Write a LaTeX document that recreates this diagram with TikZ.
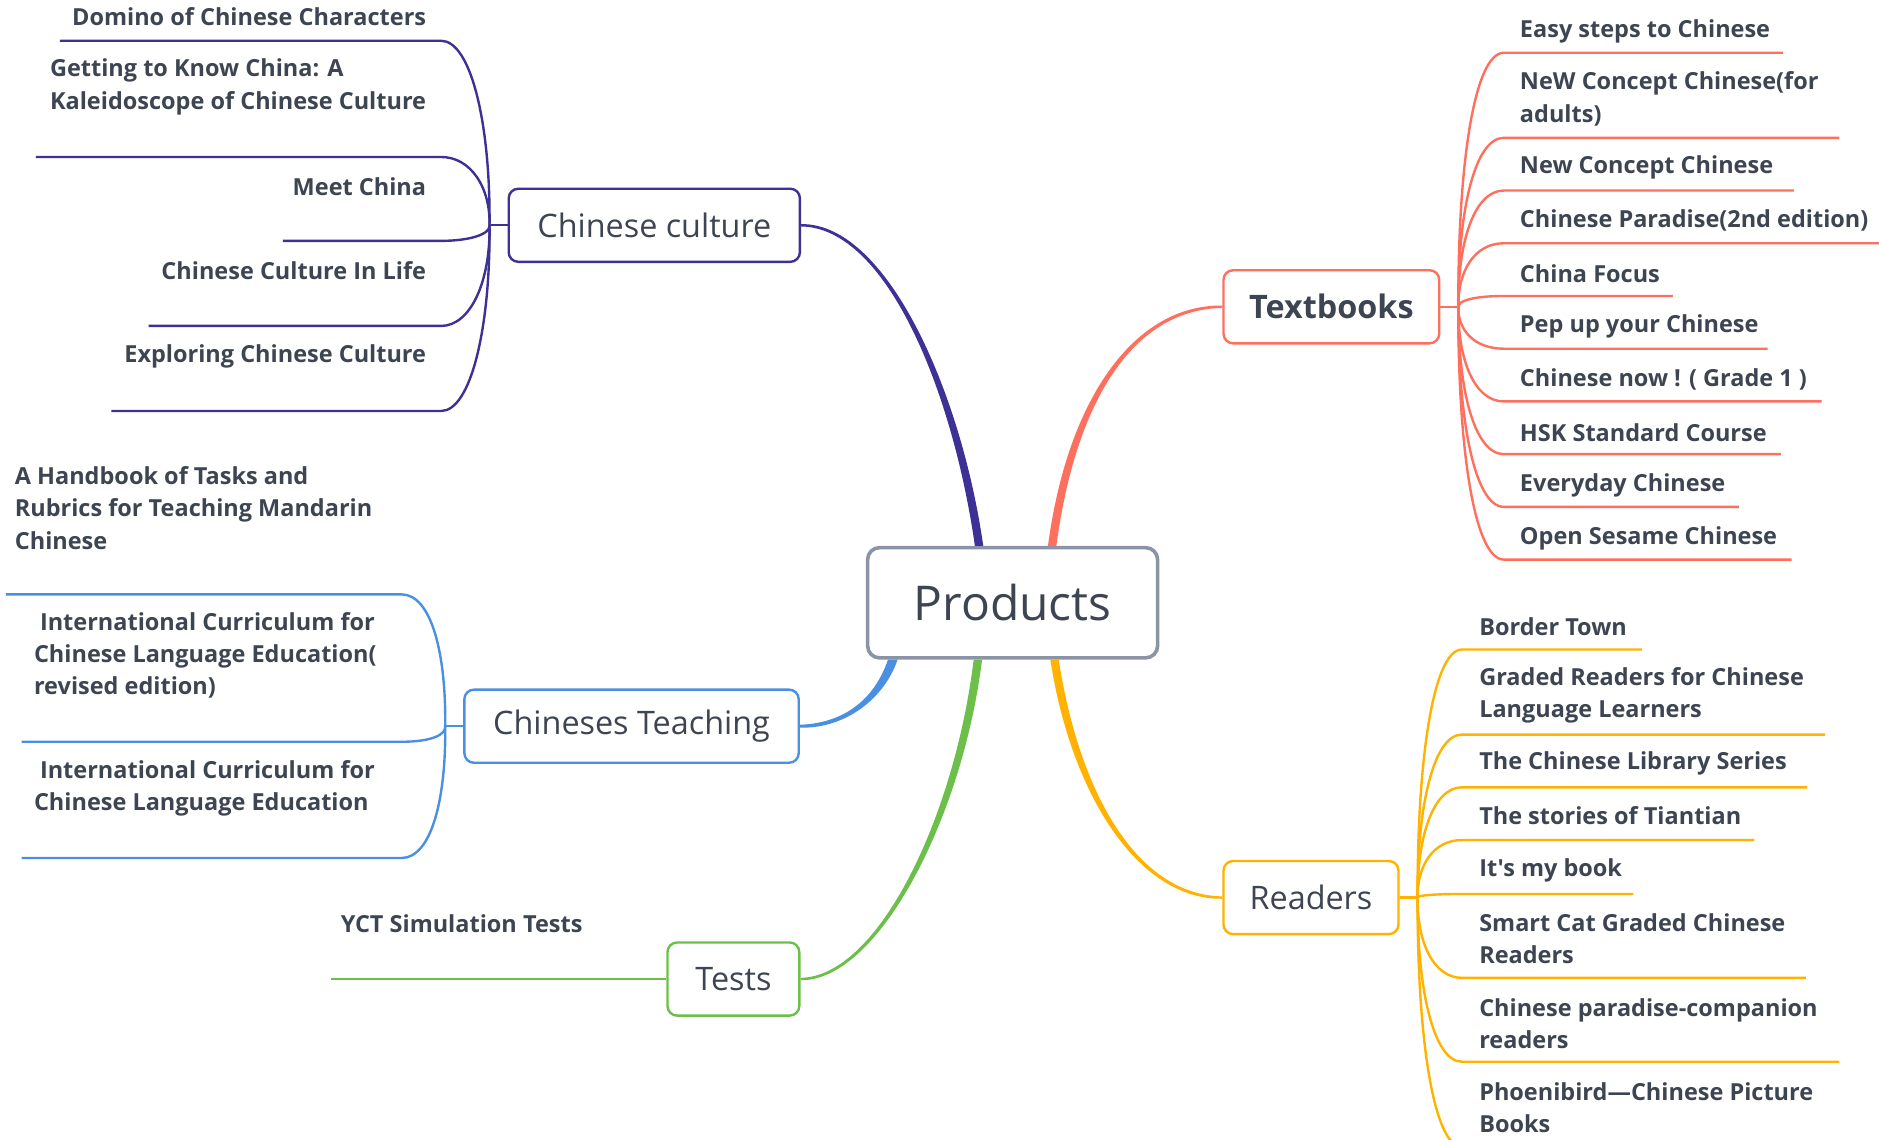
\documentclass[tikz,border=0pt]{standalone}
\usepackage{fontspec}
\setmainfont{Open Sans}[Ligatures=TeXOff]
\usetikzlibrary{calc}
\definecolor{cultcol}{HTML}{3E3196}
\definecolor{tbkcol}{HTML}{FF6F5E}
\definecolor{tchcol}{HTML}{4A90E2}
\definecolor{rdrcol}{HTML}{FFB300}
\definecolor{tstcol}{HTML}{6CC04A}
\definecolor{prodcol}{HTML}{8A94A6}
\definecolor{txtcol}{HTML}{3E4552}
\newcommand\leaffont{\fontsize{9.8}{13.5}\selectfont\bfseries}
\newcommand\topicfont{\fontsize{13.5}{16}\selectfont}
\begin{document}
\begin{tikzpicture}[x=0.5pt,y=-0.5pt,
    topic/.style={draw, rounded corners=4pt, line width=1pt, fill=white, text=txtcol,
      font=\topicfont, minimum height=30.5pt, inner sep=0pt},
    leaf/.style={text=txtcol, font=\leaffont, align=left, inner sep=0pt},
    leafline/.style={line width=1pt}]
    \useasboundingbox (0,0) rectangle (1568,951);

    \node[draw=prodcol, line width=1.5pt, rounded corners=5pt, fill=white, text=txtcol,
      minimum width=121pt, minimum height=46pt, font=\fontsize{20}{24}\selectfont] (prod) at (845,503) {Products};
    \node[topic, draw=cultcol, minimum width=121.5pt] (cult) at (546,188) {Chinese culture};
    \node[topic, draw=tbkcol, minimum width=90pt, font=\topicfont\bfseries] (tbk) at (1111,256) {Textbooks};
    \node[topic, draw=tchcol, minimum width=139.5pt] (tch) at (527,606) {Chineses Teaching};
    \node[topic, draw=rdrcol, minimum width=73pt] (rdr) at (1094,749) {Readers};
    \node[topic, draw=tstcol, minimum width=55pt] (tst) at (612,817) {Tests};

    % main branches
    \fill[cultcol] ($(prod.north)+(-31.5,0)$) .. controls +(-18,-127) and +(72,1) .. ($(cult.east)+(0,1)$)
      -- ($(cult.east)+(0,-1)$) .. controls +(72,-1) and +(-18,-127) .. ($(prod.north)+(-24.5,0)$) -- cycle;
    \fill[tbkcol] ($(prod.north)+(29.5,0)$) .. controls +(17,-127) and +(-71,-1) .. ($(tbk.west)+(0,-1)$)
      -- ($(tbk.west)+(0,1)$) .. controls +(-71,1) and +(17,-127) .. ($(prod.north)+(36.5,0)$) -- cycle;
    \fill[rdrcol] ($(prod.south)+(38.5,0)$) .. controls +(17,111) and +(-71,-1) .. ($(rdr.west)+(0,-1)$)
      -- ($(rdr.west)+(0,1)$) .. controls +(-71,1) and +(17,111) .. ($(prod.south)+(31.5,0)$) -- cycle;
    \fill[tstcol] ($(prod.south)+(-25.5,0)$) .. controls +(-16,131) and +(65,1) .. ($(tst.east)+(0,1)$)
      -- ($(tst.east)+(0,-1)$) .. controls +(65,-1) and +(-16,131) .. ($(prod.south)+(-32.5,0)$) -- cycle;
    \fill[tchcol] ($(prod.south)+(-96,0)$) .. controls +(-12,35) and +(35,1.2) .. ($(tch.east)+(0,1.2)$)
      -- ($(tch.east)+(0,-1.2)$) .. controls +(35,-1.2) and +(-12,35) .. ($(prod.south)+(-104,0)$) -- cycle;

    % hubs
    \coordinate (cchub) at ($(cult.west)+(-15,0)$);
    \coordinate (tbhub) at ($(tbk.east)+(15,0)$);
    \coordinate (rdhub) at ($(rdr.east)+(15,0)$);
    \coordinate (tchub) at ($(tch.west)+(-15,0)$);
    \coordinate (tsend) at (276,817);
    \draw[cultcol, leafline] (cult.west) -- (cchub);
    \draw[tbkcol, leafline] (tbk.east) -- (tbhub);
    \draw[rdrcol, leafline] (rdr.east) -- (rdhub);
    \draw[tchcol, leafline] (tch.west) -- (tchub);
    \draw[tstcol, leafline] (tst.west) -- (tsend);

    \foreach \y/\xl in {34/50, 131/30, 201/236, 272/124, 343/93}
      \draw[cultcol, leafline] (cchub) .. controls ($(cchub)!0.55!(410,\y)$) and (393,\y) .. (368,\y) -- (\xl,\y);
    \foreach \y/\xr in {44/1488, 115/1535, 159/1497, 203/1568, 247/1396, 291/1475, 335/1520, 379/1486, 423/1451, 467/1495}
      \draw[tbkcol, leafline] (tbhub) .. controls ($(tbhub)!0.55!(1216,\y)$) and (1230,\y) .. (1255,\y) -- (\xr,\y);
    \foreach \y/\xr in {542/1370, 613/1523, 657/1508, 701/1464, 746/1363, 816/1507, 886/1535, 957/1530}
      \draw[rdrcol, leafline] (rdhub) .. controls ($(rdhub)!0.55!(1182,\y)$) and (1196,\y) .. (1220,\y) -- (\xr,\y);
    \foreach \y/\xl in {496/5, 619/18, 716/18}
      \draw[tchcol, leafline] (tchub) .. controls ($(tchub)!0.55!(373,\y)$) and (360,\y) .. (335,\y) -- (\xl,\y);

    \node[leaf, anchor=east] (c1) at (356,14) {Domino of Chinese Characters};
    \node[leaf, anchor=east] (c2) at (356,72.5) {Getting to Know China: A\\Kaleidoscope of Chinese Culture};
    \node[leaf, anchor=east] (c3) at (356,156) {Meet China};
    \node[leaf, anchor=east] (c4) at (356,226) {Chinese Culture In Life};
    \node[leaf, anchor=east] (c5) at (356,297) {Exploring Chinese Culture};

    \node[leaf, anchor=west] (t1) at (1268,26) {Easy steps to Chinese};
    \node[leaf, anchor=west] (t2) at (1268,82.5) {NeW Concept Chinese(for\\adults)};
    \node[leaf, anchor=west] (t3) at (1268,140) {New Concept Chinese};
    \node[leaf, anchor=west] (t4) at (1268,184) {Chinese Paradise(2nd edition)};
    \node[leaf, anchor=west] (t5) at (1268,228) {China Focus};
    \node[leaf, anchor=west] (t6) at (1268,272) {Pep up your Chinese};
    \node[leaf, anchor=west] (t7) at (1268,317) {Chinese now ! ( Grade 1 )};
    \node[leaf, anchor=west] (t8) at (1268,361) {HSK Standard Course};
    \node[leaf, anchor=west] (t9) at (1268,405) {Everyday Chinese};
    \node[leaf, anchor=west] (t10) at (1268,449) {Open Sesame Chinese};

    \node[leaf, anchor=west] (r1) at (1234,523) {Border Town};
    \node[leaf, anchor=west] (r2) at (1234,580.5) {Graded Readers for Chinese\\Language Learners};
    \node[leaf, anchor=west] (r3) at (1234,637) {The Chinese Library Series};
    \node[leaf, anchor=west] (r4) at (1234,681) {The stories of Tiantian};
    \node[leaf, anchor=west] (r5) at (1234,726) {It's my book};
    \node[leaf, anchor=west] (r6) at (1234,783.5) {Smart Cat Graded Chinese\\Readers};
    \node[leaf, anchor=west] (r7) at (1234,854) {Chinese paradise-companion\\readers};
    \node[leaf, anchor=west] (r8) at (1234,924.5) {Phoenibird—Chinese Picture\\Books};

    \node[leaf, anchor=west] (e1) at (12,424) {A Handbook of Tasks and\\Rubrics for Teaching Mandarin\\Chinese};
    \node[leaf, anchor=west] (e2) at (28,547) {\hspace*{2.5pt}International Curriculum for\\Chinese Language Education(\\revised edition)};
    \node[leaf, anchor=west] (e3) at (28,658) {\hspace*{2.5pt}International Curriculum for\\Chinese Language Education};

    \node[leaf, anchor=west] (y1) at (284,771) {YCT Simulation Tests};
\end{tikzpicture}
\end{document}
